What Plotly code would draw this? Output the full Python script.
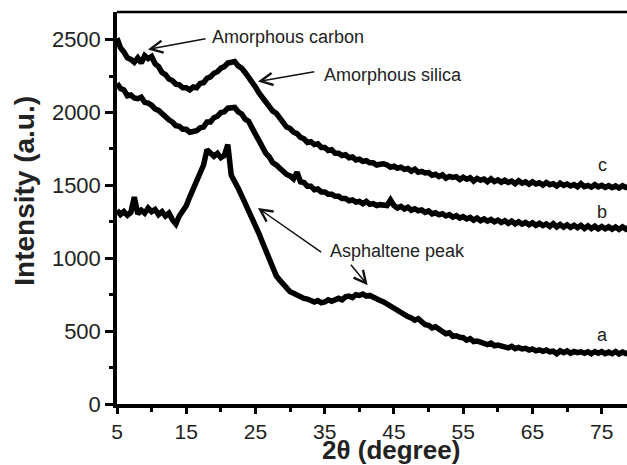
import numpy as np
import plotly.graph_objects as go

# 2-theta scan angles (degrees), 0.5 degree step
two_theta = np.arange(5.0, 79.01, 0.5)

# Curve a (intensity, a.u.)
curve_a = [
    1330, 1300, 1320, 1295, 1315, 1420, 1305, 1330, 1310, 1345,
    1320, 1335, 1300, 1320, 1290, 1310, 1265, 1235, 1290, 1320,
    1360, 1420, 1470, 1530, 1585, 1640, 1745, 1715, 1700, 1720,
    1690, 1705, 1780, 1570, 1530, 1480, 1430, 1380, 1330, 1290,
    1230, 1170, 1110, 1050, 985, 925, 880, 850, 820, 800,
    770, 760, 745, 740, 725, 720, 705, 700, 710, 695,
    700, 715, 705, 720, 725, 715, 735, 740, 730, 750,
    745, 755, 740, 745, 730, 720, 710, 700, 685, 665,
    655, 640, 625, 610, 600, 590, 575, 585, 560, 545,
    540, 522, 530, 508, 498, 482, 488, 465, 468, 458,
    455, 438, 448, 428, 432, 425, 420, 408, 418, 400,
    405, 398, 400, 385, 396, 380, 388, 378, 382, 370,
    378, 365, 372, 362, 370, 358, 362, 345, 365, 352,
    364, 348, 360, 352, 358, 348, 358, 345, 360, 348,
    360, 346, 356, 345, 360, 343, 356, 346, 354,
]

# Curve b
curve_b = [
    2200, 2165, 2155, 2115, 2120, 2100, 2095, 2105, 2070, 2065,
    2050, 2025, 2015, 1990, 1975, 1950, 1935, 1910, 1905, 1885,
    1885, 1865, 1870, 1875, 1895, 1900, 1935, 1935, 1965, 1975,
    2000, 2005, 2030, 2035, 2035, 2005, 1990, 1955, 1940, 1895,
    1850, 1800, 1760, 1720, 1695, 1655, 1640, 1615, 1600, 1575,
    1565, 1545, 1590, 1525, 1520, 1495, 1495, 1470, 1475, 1455,
    1455, 1440, 1440, 1425, 1425, 1410, 1410, 1395, 1400, 1385,
    1390, 1375, 1390, 1370, 1375, 1362, 1368, 1365, 1362, 1400,
    1362, 1345, 1356, 1338, 1350, 1330, 1340, 1326, 1332, 1315,
    1325, 1305, 1312, 1298, 1306, 1290, 1300, 1282, 1292, 1276,
    1286, 1270, 1280, 1262, 1276, 1258, 1270, 1255, 1266, 1250,
    1262, 1245, 1258, 1240, 1255, 1236, 1250, 1234, 1246, 1230,
    1244, 1226, 1240, 1224, 1236, 1218, 1238, 1215, 1232, 1214,
    1230, 1212, 1226, 1210, 1225, 1205, 1222, 1204, 1220, 1202,
    1218, 1202, 1216, 1200, 1215, 1198, 1216, 1200, 1214,
]

# Curve c
curve_c = [
    2510, 2445, 2415, 2375, 2365, 2345, 2375, 2340, 2390, 2370,
    2385, 2335, 2315, 2275, 2260, 2230, 2220, 2195, 2190, 2170,
    2170, 2155, 2175, 2170, 2200, 2205, 2235, 2245, 2270, 2280,
    2305, 2315, 2340, 2345, 2350, 2320, 2305, 2275, 2245, 2205,
    2175, 2135, 2105, 2065, 2045, 2010, 1995, 1960, 1940, 1900,
    1890, 1865, 1855, 1830, 1820, 1795, 1800, 1780, 1785, 1760,
    1760, 1740, 1745, 1720, 1720, 1705, 1710, 1690, 1695, 1675,
    1680, 1665, 1670, 1655, 1655, 1640, 1645, 1648, 1640, 1625,
    1632, 1618, 1625, 1610, 1616, 1598, 1612, 1590, 1596, 1585,
    1588, 1570, 1576, 1560, 1572, 1550, 1562, 1555, 1560, 1540,
    1556, 1542, 1552, 1530, 1548, 1536, 1544, 1525, 1545, 1526,
    1538, 1522, 1535, 1520, 1530, 1512, 1532, 1515, 1524, 1508,
    1525, 1510, 1518, 1502, 1520, 1505, 1512, 1496, 1516, 1500,
    1510, 1496, 1506, 1490, 1512, 1492, 1500, 1488, 1505, 1490,
    1500, 1486, 1498, 1484, 1496, 1482, 1498, 1486, 1494,
]

series_labels = ["a", "b", "c"]
x_ticks = [5, 15, 25, 35, 45, 55, 65, 75]
x_minor = [10, 20, 30, 40, 50, 60, 70]
y_ticks = [0, 500, 1000, 1500, 2000, 2500]
y_minor = [250, 750, 1250, 1750, 2250]

FONT = "Liberation Sans, Arial, sans-serif"
TXT = "#222222"

fig = go.Figure()
for ys in (curve_a, curve_b, curve_c):
    fig.add_trace(go.Scatter(x=two_theta, y=ys, mode="lines",
                             line=dict(color="black", width=5.5),
                             showlegend=False, hoverinfo="skip"))

fig.update_layout(
    width=627, height=465,
    margin=dict(l=117, r=0, t=12, b=61),
    paper_bgcolor="white", plot_bgcolor="white",
    font=dict(family=FONT, color=TXT),
    showlegend=False,
)
fig.update_xaxes(
    range=[5, 78.65], showgrid=False, zeroline=False,
    showline=True, linecolor="black", linewidth=3.5,
    tickmode="array", tickvals=x_ticks, ticktext=[str(v) for v in x_ticks],
    ticks="outside", ticklen=6, tickwidth=3, tickcolor="black",
    tickfont=dict(size=21, family=FONT, color=TXT),
    minor=dict(tickvals=x_minor, ticks="outside", ticklen=4, tickwidth=2.5, tickcolor="black"),
)
fig.update_yaxes(
    range=[0, 2690], showgrid=False, zeroline=False,
    showline=True, linecolor="black", linewidth=3.5,
    tickmode="array", tickvals=y_ticks, ticktext=[str(v) for v in y_ticks],
    ticks="outside", ticklen=8, tickwidth=3, tickcolor="black",
    tickfont=dict(size=22, family=FONT, color=TXT),
    minor=dict(tickvals=y_minor, ticks="outside", ticklen=4, tickwidth=2.5, tickcolor="black"),
)

# top border
fig.add_shape(type="line", xref="paper", yref="paper", x0=0, x1=1, y0=1, y1=1,
              line=dict(color="black", width=2.5))

# axis titles
fig.add_annotation(text="<b>Intensity (a.u.)</b>", xref="paper", yref="paper",
                   x=-0.1804, y=0.544, xanchor="center", yanchor="middle",
                   textangle=-90, showarrow=False, font=dict(size=28, family=FONT, color=TXT))
fig.add_annotation(text="<b>2θ (degree)</b>", xref="paper", yref="paper",
                   x=0.538, y=-0.118, xanchor="center", yanchor="middle",
                   showarrow=False, font=dict(size=26, family=FONT, color=TXT))

# curve labels
for lab, yv in zip(series_labels, [471, 1317, 1642]):
    fig.add_annotation(text=lab, x=75.1, y=yv, showarrow=False,
                       font=dict(size=18, family=FONT, color=TXT))

# text labels
notes = [
    ("Amorphous carbon", 18.4, 2516),
    ("Amorphous silica", 34.6, 2261),
    ("Asphaltene peak", 35.45, 1050),
]
for t, xv, yv in notes:
    fig.add_annotation(text=t, x=xv, y=yv, xanchor="left", yanchor="middle",
                       showarrow=False, font=dict(size=18, family=FONT, color=TXT))

# arrows: (head_x, head_y, tail_x, tail_y)
arrows = [
    (9.47, 2433, 18.0, 2509),
    (25.35, 2213, 33.7, 2282),
    (25.35, 1345, 34.7, 1035),
    (41.2, 815, 38.6, 966),
]
for hx, hy, tx, ty in arrows:
    fig.add_annotation(text="", x=hx, y=hy, ax=tx, ay=ty, axref="x", ayref="y",
                       showarrow=True, arrowhead=5, arrowsize=1.6, arrowwidth=1.5,
                       arrowcolor="#111111")

fig.write_html("out.html")
